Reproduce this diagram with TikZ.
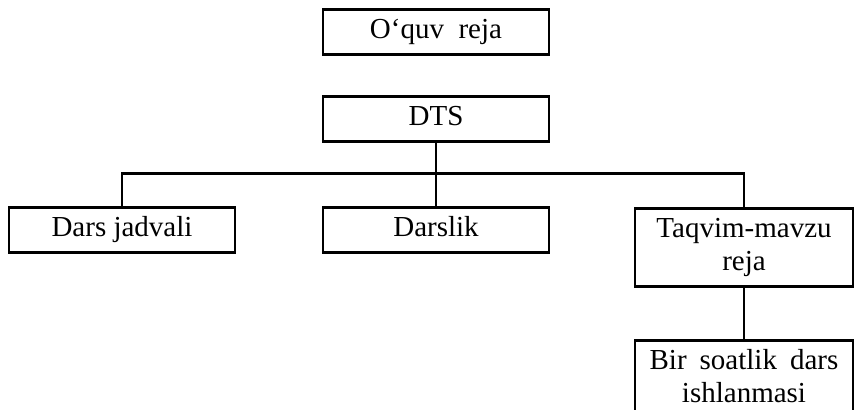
\documentclass[tikz,border=0pt]{standalone}
\usepackage{fontspec}
\setmainfont{Liberation Serif}
\usepackage{tikz}
\usetikzlibrary{ % tikz packages
    positioning
}
\tikzset{every plan/.style={
    draw,
    line width=1.1pt,
    inner sep=2pt,
    align=center,
    font=\fontsize{14.5}{16.5}\selectfont
}}
\tikzset{plan/.style={every plan,minimum width=113pt,minimum height=22.5pt,
    text height=10pt,text depth=3pt}}
\tikzset{tallplan/.style={every plan,minimum width=109pt}}
\tikzset{link/.style={line width=1.1pt}}

\begin{document}
\begin{tikzpicture}[on grid]
            \useasboundingbox (0,0) rectangle (427.5pt,-205pt);
            \node[plan] (oquv) at (218pt,-16pt) {O‘quv\ \ reja};
            \node[plan] (dts) [below=43.5pt of oquv] {DTS};
            \node[plan] (darslik) [below=55.5pt of dts] {Darslik};
            \node[plan] (jadval) [left=157pt of darslik] {Dars jadvali};
            \node[tallplan, minimum height=39pt] (taqvim)
                [below right=8.75pt and 154pt of darslik] {Taqvim-mavzu\\reja};
            \node[tallplan, minimum height=36pt] (bir)
                [below=64.5pt of taqvim]
                {Bir\hspace{0.45em}soatlik\hspace{0.45em}dars\\ishlanmasi};

            \draw[link] (dts.south) -- ++(0,-15.5pt) coordinate (split);
            \draw[link] (jadval.north) |- (split) -| (taqvim.north);
            \draw[link] (split) -- (darslik.north);
            \draw[link] (taqvim) -- (bir);
        \end{tikzpicture}
\end{document}
